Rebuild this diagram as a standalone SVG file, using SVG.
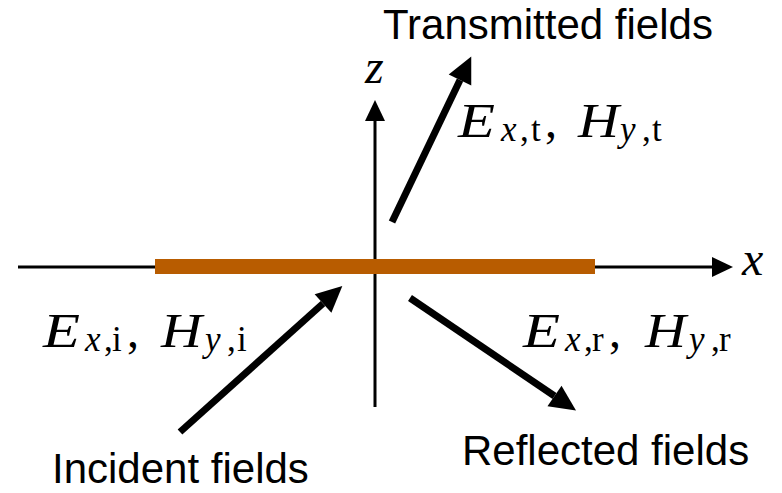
<svg xmlns="http://www.w3.org/2000/svg" width="782" height="493" viewBox="0 0 782 493">
<style>
.lbl{font-family:"Liberation Sans",Arial,sans-serif;font-size:42px;fill:#000}
.mi{font-family:"Liberation Serif","Times New Roman",serif;font-style:italic;font-size:48px;fill:#000}
.mr{font-family:"Liberation Serif","Times New Roman",serif;font-size:48px;fill:#000}
.si{font-family:"Liberation Serif","Times New Roman",serif;font-style:italic;font-size:35px;fill:#000}
.sr{font-family:"Liberation Serif","Times New Roman",serif;font-size:35px;fill:#000}
.axis{stroke:#000;stroke-width:3;fill:none}
.field{stroke:#000;stroke-width:7;fill:none;stroke-linecap:butt}
</style>
<defs>
<marker id="axhead" markerUnits="userSpaceOnUse" orient="auto" refX="0" refY="0" markerWidth="30" markerHeight="30" overflow="visible">
<path d="M0,-10 L21,0 L0,10 Z" fill="#000"/>
</marker>
<marker id="fhead" markerUnits="userSpaceOnUse" orient="auto" refX="0" refY="0" markerWidth="40" markerHeight="40" overflow="visible">
<path d="M0,-12.5 L26,0 L0,12.5 Z" fill="#000"/>
</marker>
</defs>
<g id="connectors">
<line id="x-axis" class="axis" x1="18" y1="267" x2="712" y2="267" marker-end="url(#axhead)"/>
<line id="z-axis" class="axis" x1="375" y1="407" x2="375" y2="121" marker-end="url(#axhead)"/>
<line id="transmitted-arrow" class="field" x1="392" y1="222" x2="460" y2="80" marker-end="url(#fhead)"/>
<line id="incident-arrow" class="field" x1="180" y1="432" x2="323" y2="303.5" marker-end="url(#fhead)"/>
<line id="reflected-arrow" class="field" x1="410" y1="298" x2="554.5" y2="396" marker-end="url(#fhead)"/>
</g>
<g id="interface">
<rect x="155" y="259" width="440" height="15" fill="#b85c00"/>
</g>
<g id="axis-labels">
<text class="mi" x="365" y="83">z</text>
<text class="mi" x="742" y="275">x</text>
</g>
<g id="transmitted">
<text class="lbl" x="383" y="39">Transmitted fields</text>
<text class="mi" x="458" y="137" textLength="37" lengthAdjust="spacingAndGlyphs">E</text>
<text class="si" x="501" y="141">x</text>
<text class="sr" x="520" y="141">,</text>
<text class="sr" x="531" y="141">t</text>
<text class="mr" x="545" y="137">,</text>
<text class="mi" x="578" y="137" textLength="41" lengthAdjust="spacingAndGlyphs">H</text>
<text class="si" x="620" y="141">y</text>
<text class="sr" x="642" y="141">,</text>
<text class="sr" x="652" y="141">t</text>
</g>
<g id="incident">
<text class="lbl" x="52" y="483">Incident fields</text>
<text class="mi" x="43" y="347" textLength="37" lengthAdjust="spacingAndGlyphs">E</text>
<text class="si" x="85" y="351">x</text>
<text class="sr" x="104" y="351">,</text>
<text class="sr" x="112" y="351">i</text>
<text class="mr" x="127" y="347">,</text>
<text class="mi" x="161" y="347" textLength="41" lengthAdjust="spacingAndGlyphs">H</text>
<text class="si" x="205" y="351">y</text>
<text class="sr" x="227" y="351">,</text>
<text class="sr" x="237" y="351">i</text>
</g>
<g id="reflected">
<text class="lbl" x="462" y="465">Reflected fields</text>
<text class="mi" x="523" y="347" textLength="37" lengthAdjust="spacingAndGlyphs">E</text>
<text class="si" x="565" y="351">x</text>
<text class="sr" x="584" y="351">,</text>
<text class="sr" x="592" y="351">r</text>
<text class="mr" x="609" y="347">,</text>
<text class="mi" x="645" y="347" textLength="41" lengthAdjust="spacingAndGlyphs">H</text>
<text class="si" x="689" y="351">y</text>
<text class="sr" x="711" y="351">,</text>
<text class="sr" x="719" y="351">r</text>
</g>
</svg>
